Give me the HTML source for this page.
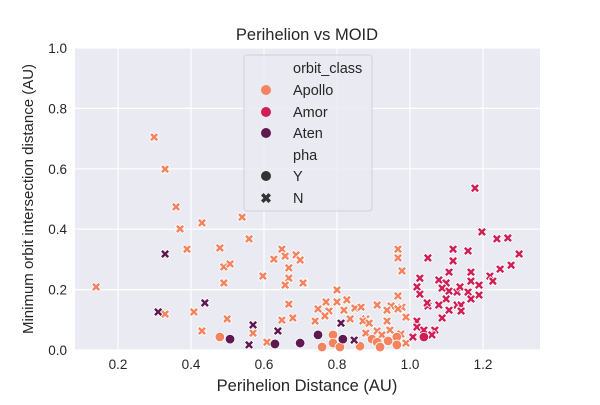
<!DOCTYPE html>
<html><head><meta charset="utf-8"><style>
body{margin:0;background:#fff;font-family:"Liberation Sans","DejaVu Sans",sans-serif}
svg text{font-family:"Liberation Sans","DejaVu Sans",sans-serif;fill:#262626}
</style></head><body>
<svg id="c" width="600" height="400"></svg>
<script>
const apolloN=[[0.299,0.705],[0.329,0.599],[0.359,0.474],[0.370,0.401],[0.430,0.421],[0.540,0.440],[0.389,0.334],[0.559,0.368],[0.479,0.338],[0.490,0.275],[0.507,0.285],[0.490,0.222],[0.597,0.245],[0.649,0.334],[0.627,0.301],[0.658,0.311],[0.688,0.315],[0.699,0.298],[0.668,0.272],[0.668,0.238],[0.658,0.215],[0.710,0.222],[0.140,0.209],[0.329,0.119],[0.408,0.126],[0.499,0.103],[0.668,0.152],[0.649,0.099],[0.679,0.106],[0.430,0.063],[0.570,0.056],[0.608,0.026],[0.967,0.334],[0.967,0.305],[0.978,0.262],[0.707,0.222],[0.800,0.199],[0.967,0.179],[0.770,0.159],[0.800,0.159],[0.827,0.166],[0.910,0.149],[0.748,0.136],[0.778,0.129],[0.849,0.139],[0.866,0.142],[0.819,0.132],[0.948,0.146],[0.978,0.142],[0.937,0.132],[0.967,0.136],[0.767,0.113],[0.740,0.096],[0.879,0.103],[0.989,0.109],[0.836,0.103],[0.871,0.096],[0.937,0.096],[0.888,0.089],[0.879,0.056],[0.910,0.063],[0.945,0.066],[0.975,0.053],[0.923,0.050],[0.989,0.023]];
const apolloY=[[0.479,0.043],[0.789,0.050],[0.789,0.023],[0.759,0.010],[0.808,0.010],[0.896,0.036],[0.910,0.026],[0.940,0.030],[0.964,0.043],[0.964,0.017],[0.918,0.010],[0.863,0.013]];
const atenN=[[0.329,0.318],[0.310,0.126],[0.438,0.156],[0.570,0.083],[0.638,0.063],[0.559,0.017],[0.847,0.033],[0.811,0.089]];
const atenY=[[0.507,0.036],[0.630,0.020],[0.699,0.023],[0.748,0.050],[0.816,0.036]];
const amorN=[[1.178,0.536],[1.197,0.391],[1.238,0.368],[1.268,0.371],[1.299,0.318],[1.277,0.281],[1.247,0.268],[1.219,0.245],[1.227,0.228],[1.118,0.334],[1.159,0.328],[1.049,0.305],[1.118,0.295],[1.107,0.258],[1.167,0.258],[1.167,0.228],[1.189,0.215],[1.027,0.238],[1.079,0.232],[1.099,0.222],[1.019,0.209],[1.088,0.205],[1.107,0.195],[1.129,0.192],[1.137,0.209],[1.159,0.192],[1.027,0.185],[1.189,0.182],[1.167,0.169],[1.099,0.169],[1.079,0.149],[1.049,0.146],[1.129,0.149],[1.140,0.149],[1.107,0.132],[1.140,0.129],[1.088,0.106],[1.019,0.096],[1.019,0.076],[1.068,0.066],[1.038,0.066],[1.060,0.050],[1.008,0.043],[1.047,0.156]];
const amorY=[[1.038,0.043]];
const xTicks=[0.2,0.4,0.6,0.8,1.0,1.2];
const yTicks=[0.0,0.2,0.4,0.6,0.8,1.0];
const COL={Apollo:'#f4845f',Amor:'#cf1f55',Aten:'#5e1a50'};
const NS='http://www.w3.org/2000/svg';
const svg=document.getElementById('c');
const L=75,R=540,T=48,B=350;
const xs=v=>45+v*365, ys=v=>350-v*302;
function el(t,a,p){const e=document.createElementNS(NS,t);for(const k in a)e.setAttribute(k,a[k]);(p||svg).appendChild(e);return e;}
const bg=el('rect',{x:L,y:T,width:R-L,height:B-T,fill:'#eaeaf2'});


xTicks.forEach(v=>{const g=el('line',{x1:xs(v),x2:xs(v),y1:T,y2:B,stroke:'#fff','stroke-width':1.2});


const t=el('text',{x:xs(v),y:B+19,'text-anchor':'middle','font-size':13.5});t.textContent=v.toFixed(1);

});
yTicks.forEach(v=>{const g=el('line',{x1:L,x2:R,y1:ys(v),y2:ys(v),stroke:'#fff','stroke-width':1.2});


const t=el('text',{x:L-8,y:ys(v)+5,'text-anchor':'end','font-size':13.5});t.textContent=v.toFixed(1);

});
function xpath(cx,cy,s){const a=s*0.5,b=s;return `M${cx-b},${cy-b+a}L${cx-b+a},${cy-b}L${cx},${cy-a}L${cx+b-a},${cy-b}L${cx+b},${cy-b+a}L${cx+a},${cy}L${cx+b},${cy+b-a}L${cx+b-a},${cy+b}L${cx},${cy+a}L${cx-b+a},${cy+b}L${cx-b},${cy+b-a}L${cx-a},${cy}Z`;}
function drawN(arr,c,name){arr.forEach(p=>{const m=el('path',{d:xpath(xs(p[0]),ys(p[1]),4.6),fill:c,stroke:'#fff','stroke-width':0.8});

});}
function drawY(arr,c,name){arr.forEach(p=>{const m=el('circle',{cx:xs(p[0]),cy:ys(p[1]),r:4.8,fill:c,stroke:'#fff','stroke-width':0.8});

});}
drawN(apolloN,COL.Apollo,'apollo-n-point');drawY(apolloY,COL.Apollo,'apollo-y-point');
drawN(amorN,COL.Amor,'amor-n-point');drawY(amorY,COL.Amor,'amor-y-point');
drawN(atenN,COL.Aten,'aten-n-point');drawY(atenY,COL.Aten,'aten-y-point');
</script>
<svg width="600" height="400" style="position:absolute;left:0;top:0">
<text x="307" y="40" text-anchor="middle" font-size="16.5">Perihelion vs MOID</text>
<text x="307" y="391" text-anchor="middle" font-size="16.5">Perihelion Distance (AU)</text>
<text x="0" y="0" transform="translate(33,199) rotate(-90)" text-anchor="middle" font-size="15">Minimum orbit intersection distance (AU)</text>
<g>
<rect x="244" y="55" width="128" height="156" rx="3" fill="#eaeaf2" fill-opacity="0.85" stroke="#d0d0d8"/>
<text x="293" y="73" font-size="14.5">orbit_class</text>
<circle cx="266" cy="90" r="5" fill="#f4845f"/>
<text x="293" y="95" font-size="14.5">Apollo</text>
<circle cx="266" cy="112" r="5" fill="#cf1f55"/>
<text x="293" y="117" font-size="14.5">Amor</text>
<circle cx="266" cy="133" r="5" fill="#5e1a50"/>
<text x="293" y="138" font-size="14.5">Aten</text>
<text x="293" y="160" font-size="14.5">pha</text>
<circle cx="266" cy="176" r="5" fill="#333"/>
<text x="293" y="181" font-size="14.5">Y</text>
<path d="M261,195.5L263.5,193L266,195.5L268.5,193L271,195.5L268.5,198L271,200.5L268.5,203L266,200.5L263.5,203L261,200.5L263.5,198Z" fill="#333"/>
<text x="293" y="203" font-size="14.5">N</text>
</g>
</svg>
</body></html>
